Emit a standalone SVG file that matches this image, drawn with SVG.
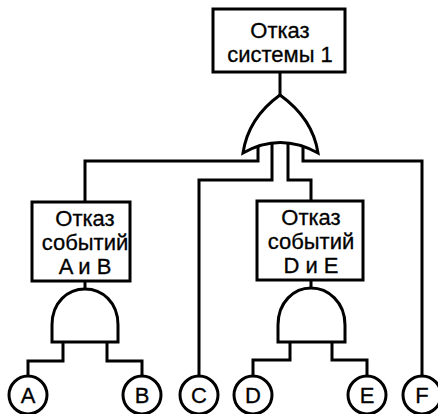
<svg xmlns="http://www.w3.org/2000/svg" width="438" height="414" viewBox="0 0 438 414">
<style>
.ln{fill:none;stroke:#000;stroke-width:3;stroke-linejoin:miter}
.bx{fill:#fff;stroke:#000;stroke-width:3}
.t{font-family:"Liberation Sans",Arial,sans-serif;font-size:22px;fill:#000;stroke:#000;stroke-width:0.3;text-anchor:middle}
</style>
<rect width="438" height="414" fill="#fff"/>
<g id="connectors">
<path class="ln" d="M280,72 V96"/>
<path class="ln" d="M258,145 V161 H85 V202"/>
<path class="ln" d="M272,140 V180 H199 V376"/>
<path class="ln" d="M288,140 V180 H311 V201"/>
<path class="ln" d="M303,145 V161 H422 V376"/>
<path class="ln" d="M85,281 V290"/>
<path class="ln" d="M63,335 V361 H28 V376"/>
<path class="ln" d="M107,335 V361 H142 V376"/>
<path class="ln" d="M311,280 V289"/>
<path class="ln" d="M290,335 V360 H253 V376"/>
<path class="ln" d="M332,335 V360 H367 V376"/>
</g>
<g id="top">
<rect class="bx" x="213" y="9" width="132" height="63"/>
<text class="t" x="280" y="38">Отказ</text>
<text class="t" x="280" y="62">системы 1</text>
</g>
<g id="or-gate">
<path class="bx" d="M243,153 C247,126 262,108 280,95 C298,108 314,126 318,153 Q280,132 243,153 Z"/>
</g>
<g id="ab">
<rect class="bx" x="32" y="202" width="98" height="79"/>
<text class="t" x="85" y="226">Отказ</text>
<text class="t" x="85" y="250">событий</text>
<text class="t" x="85" y="274">A и B</text>
</g>
<g id="and-ab">
<path class="bx" d="M52,342 V325 C52,302 68,289 85,289 C102,289 118,302 118,325 V342 Z"/>
</g>
<g id="de">
<rect class="bx" x="257" y="201" width="106" height="79"/>
<text class="t" x="311" y="225">Отказ</text>
<text class="t" x="311" y="249">событий</text>
<text class="t" x="311" y="273">D и E</text>
</g>
<g id="and-de">
<path class="bx" d="M278,342 V325 C278,302 294,288 311,288 C328,288 345,302 345,325 V342 Z"/>
</g>
<g id="A"><circle class="bx" cx="28" cy="395" r="19"/><text class="t" x="28" y="403">A</text></g>
<g id="B"><circle class="bx" cx="142" cy="395" r="19"/><text class="t" x="142" y="403">B</text></g>
<g id="C"><circle class="bx" cx="199" cy="395" r="19"/><text class="t" x="199" y="403">C</text></g>
<g id="D"><circle class="bx" cx="253" cy="395" r="19"/><text class="t" x="253" y="403">D</text></g>
<g id="E"><circle class="bx" cx="367" cy="395" r="19"/><text class="t" x="367" y="403">E</text></g>
<g id="F"><circle class="bx" cx="422" cy="395" r="19"/><text class="t" x="422" y="403">F</text></g>
</svg>
